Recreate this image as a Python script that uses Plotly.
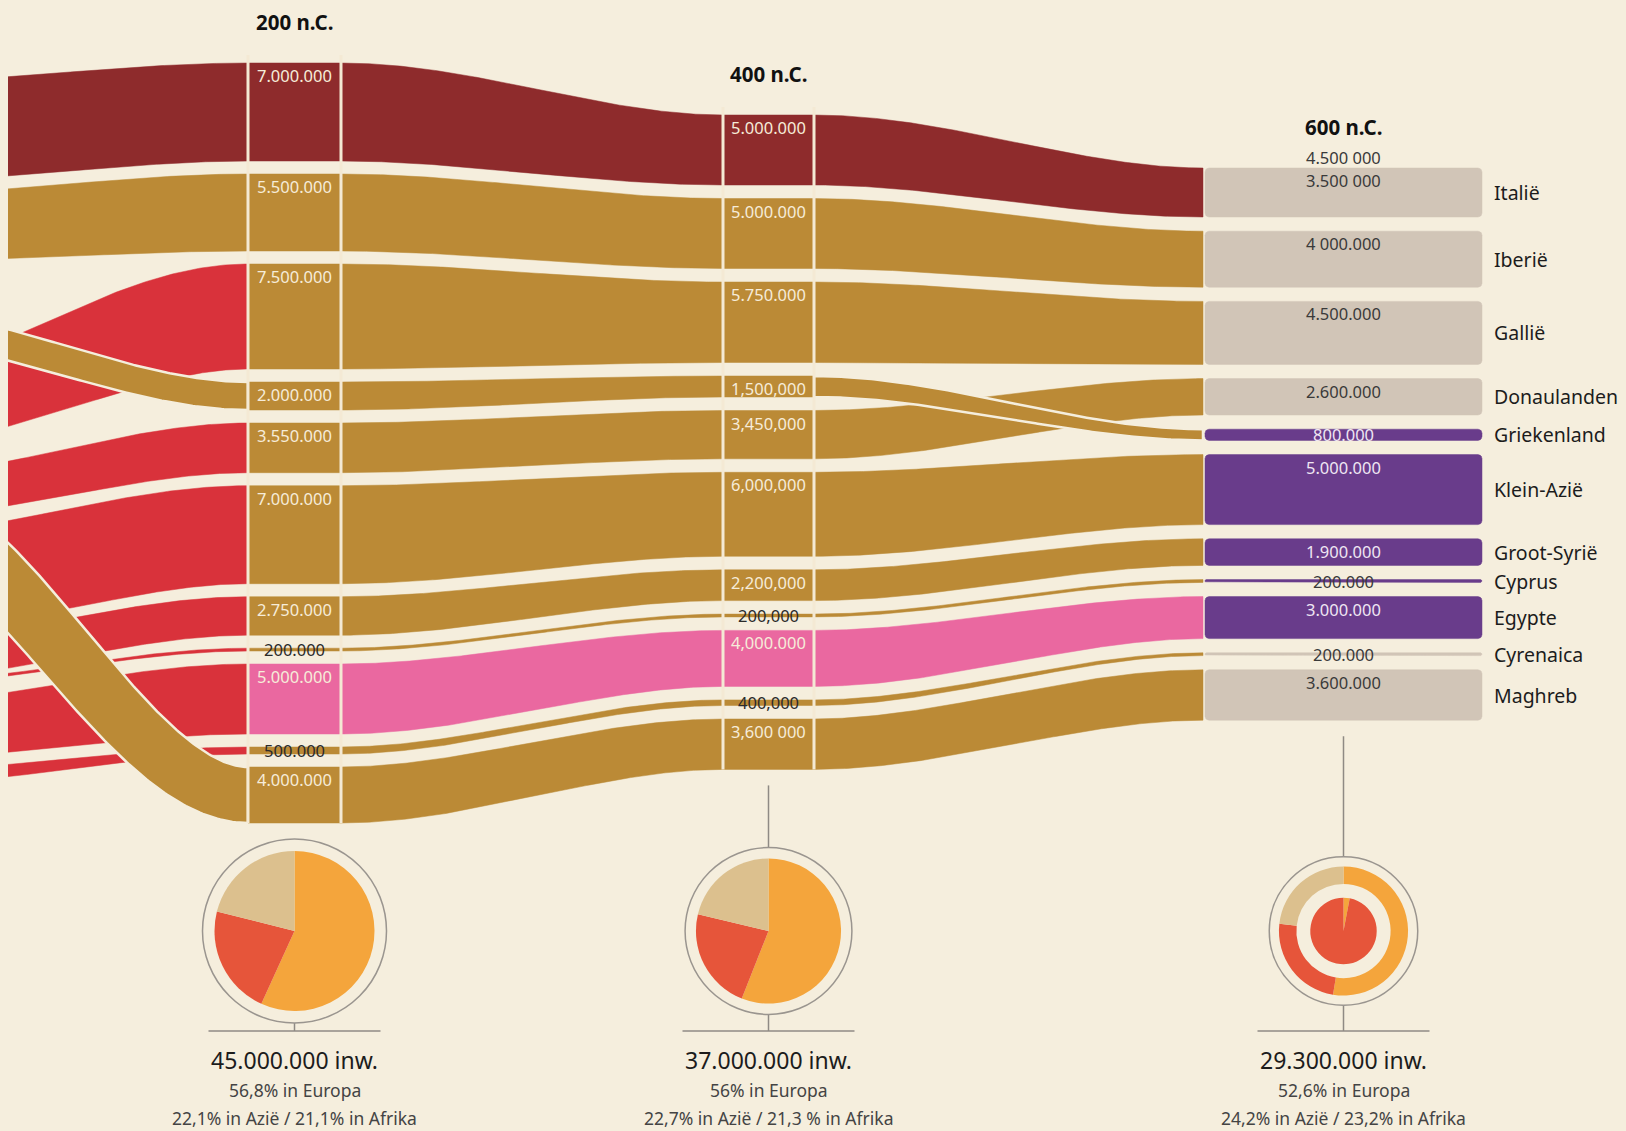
import numpy as np
import plotly.graph_objects as go

W, H = 1626, 1131
BG = "#f5eedd"

# ---------------- data ----------------
regions = ["Italië", "Iberië", "Gallië", "Griekenland", "Donaulanden", "Klein-Azië",
           "Groot-Syrië", "Cyprus", "Egypte", "Cyrenaica", "Maghreb"]
# inflow thickness at the left edge (estimated, in millions)
pop_pre = [7.1, 4.8, 5.3, 2.2, 3.0, 7.0, 2.75, 0.2, 4.0, 1.0, 4.6]
pop_200 = [7.0, 5.5, 7.5, 2.0, 3.55, 7.0, 2.75, 0.2, 5.0, 0.5, 4.0]
pop_400 = [5.0, 5.0, 5.75, 1.5, 3.45, 6.0, 2.2, 0.2, 4.0, 0.4, 3.6]
pop_600 = [3.5, 4.0, 4.5, 0.8, 2.6, 5.0, 1.9, 0.2, 3.0, 0.2, 3.6]

labels_200 = ["7.000.000", "5.500.000", "7.500.000", "2.000.000", "3.550.000", "7.000.000",
              "2.750.000", "200.000", "5.000.000", "500.000", "4.000.000"]
labels_400 = ["5.000.000", "5.000.000", "5.750.000", "1,500,000", "3,450,000", "6,000,000",
              "2,200,000", "200,000", "4,000.000", "400,000", "3,600 000"]
labels_600 = ["3.500 000", "4 000.000", "4.500.000", "800.000", "2.600.000", "5.000.000",
              "1.900.000", "200.000", "3.000.000", "200.000", "3.600.000"]
label_600_italy_extra = "4.500 000"

years = ["200 n.C.", "400 n.C.", "600 n.C."]
totals = [45.0, 37.0, 29.3]
totals_txt = ["45.000.000 inw.", "37.000.000 inw.", "29.300.000 inw."]
share_europe = [56.8, 56.0, 52.6]
share_asia = [22.1, 22.7, 24.2]
share_africa = [21.1, 21.3, 23.2]
inner_600 = [3.0, 97.0]
europe_txt = ["56,8% in Europa", "56% in Europa", "52,6% in Europa"]
asia_africa_txt = ["22,1% in Azië / 21,1% in Afrika",
                   "22,7% in Azië / 21,3 % in Afrika",
                   "24,2% in Azië / 23,2% in Afrika"]

# ---------------- layout / style ----------------
order_200 = list(range(11))
order_400 = list(range(11))
order_600 = [0, 1, 2, 4, 3, 5, 6, 7, 8, 9, 10]
PX = 14.0                       # pixels per million
col_x = {200: (248, 341), 400: (723, 814), 600: (1205, 1482)}
flow_end_600 = 1203
col_top = {200: 63, 400: 115, 600: 168}
col_gap = {200: 13.0, 400: 13.5, 600: 14.2}
X_SRC = -120
left_shift = [20, 16, 93, -71, 50, 50, 46, 35, 33, 28, -288]
LABEL_X = 1492

DARKRED = "#8e2b2c"
OCHRE = "#bb8a36"
RED = "#d9323b"
PINK = "#ea68a0"
PURPLE = "#693c8b"
BEIGE = "#d1c5b7"
ORANGE = "#f4a53c"
REDOR = "#e6553a"
TAN = "#dcc08e"
CREAM_TXT = "#f6ecd9"
DARK_TXT = "#2b2b2b"
FONT = "Noto Sans"

left_color = [DARKRED, OCHRE, RED, OCHRE, RED, RED, RED, RED, RED, RED, OCHRE]
mid_color = [DARKRED, OCHRE, OCHRE, OCHRE, OCHRE, OCHRE, OCHRE, OCHRE, PINK, OCHRE, OCHRE]
box600_color = [BEIGE, BEIGE, BEIGE, PURPLE, BEIGE, PURPLE, PURPLE, PURPLE, PURPLE, BEIGE, BEIGE]
crossing_left = [3, 10]
crossing_late = [3]


def stack(values, order, top, gap):
    tops = [0.0] * len(values)
    y = top
    for i in order:
        tops[i] = y
        y += values[i] * PX + gap
    return tops, y - gap


t200, b200 = stack(pop_200, order_200, col_top[200], col_gap[200])
t400, b400 = stack(pop_400, order_400, col_top[400], col_gap[400])
t600, b600 = stack(pop_600, order_600, col_top[600], col_gap[600])
c200 = [t200[i] + pop_200[i] * PX / 2 for i in range(11)]
c400 = [t400[i] + pop_400[i] * PX / 2 for i in range(11)]
c600 = [t600[i] + pop_600[i] * PX / 2 for i in range(11)]


def ribbon(x0, x1, ca, cb, ha, hb, n=160):
    x = np.linspace(x0, x1, n)
    t = (x - x0) / (x1 - x0)
    s = 3 * t ** 2 - 2 * t ** 3
    ds = 6 * t * (1 - t) / (x1 - x0)
    c = ca + (cb - ca) * s
    dc = (cb - ca) * ds
    h = ha + (hb - ha) * s
    nrm = np.sqrt(1 + dc ** 2)
    xt, yt = x + h * dc / nrm, c - h / nrm
    xb, yb = x - h * dc / nrm, c + h / nrm
    return np.concatenate([xt, xb[::-1], xt[:1]]), np.concatenate([yt, yb[::-1], yt[:1]])


def rrect(x0, x1, y0, y1, r):
    r = max(0.0, min(r, (y1 - y0) / 2, (x1 - x0) / 2))
    xs, ys = [], []
    for cx, cy, a0 in [(x1 - r, y0 + r, -90), (x1 - r, y1 - r, 0), (x0 + r, y1 - r, 90), (x0 + r, y0 + r, 180)]:
        a = np.radians(np.linspace(a0, a0 + 90, 6))
        xs += list(cx + r * np.cos(a))
        ys += list(cy + r * np.sin(a))
    xs.append(xs[0]); ys.append(ys[0])
    return xs, ys


fig = go.Figure()


def add_poly(xs, ys, color, outline=False):
    fig.add_trace(go.Scatter(
        x=xs, y=ys, mode="lines", fill="toself", fillcolor=color,
        line=dict(color=BG if outline else color, width=2.5 if outline else 0.5),
        hoverinfo="skip", showlegend=False))


# left inflows (underlying first, crossing bands on top)
for i in [k for k in range(11) if k not in crossing_left] + crossing_left:
    xs, ys = ribbon(X_SRC, col_x[200][0], c200[i] + left_shift[i], c200[i],
                    pop_pre[i] * PX / 2, pop_200[i] * PX / 2)
    add_poly(xs, ys, left_color[i], outline=i in crossing_left)

# 200 -> 400
for i in range(11):
    xs, ys = ribbon(col_x[200][1], col_x[400][0], c200[i], c400[i],
                    pop_200[i] * PX / 2, pop_400[i] * PX / 2)
    add_poly(xs, ys, mid_color[i])

# 400 -> 600
for i in [k for k in range(11) if k not in crossing_late] + crossing_late:
    xs, ys = ribbon(col_x[400][1], flow_end_600, c400[i], c600[i],
                    pop_400[i] * PX / 2, pop_600[i] * PX / 2)
    add_poly(xs, ys, mid_color[i], outline=i in crossing_late)

# column boxes 200 and 400
for yr, tops, vals in [(200, t200, pop_200), (400, t400, pop_400)]:
    xa, xb = col_x[yr]
    for i in range(11):
        y0, y1 = tops[i], tops[i] + vals[i] * PX
        add_poly([xa, xb, xb, xa, xa], [y0, y0, y1, y1, y0], mid_color[i])

# vertical cream lines of the columns
for yr, bot in [(200, b200), (400, b400)]:
    for xv in col_x[yr]:
        fig.add_trace(go.Scatter(x=[xv, xv], y=[col_top[yr] - 8, bot], mode="lines",
                                 line=dict(color="#f4e9d4", width=3),
                                 hoverinfo="skip", showlegend=False))

# 600 boxes
xa, xb = col_x[600]
for i in range(11):
    y0, y1 = t600[i], t600[i] + pop_600[i] * PX
    xs, ys = rrect(xa, xb, y0, y1, 4)
    add_poly(xs, ys, box600_color[i])

annotations = []


def ann(x, y, text, size, color, xanchor="center", bold=False):
    annotations.append(dict(
        x=x, y=y, xref="x", yref="y", text=f"<b>{text}</b>" if bold else text,
        showarrow=False, xanchor=xanchor, yanchor="middle",
        font=dict(family=FONT, size=size, color=color)))


VAL_FS = 16.5
# value labels
for yr, tops, vals, labs in [(200, t200, pop_200, labels_200), (400, t400, pop_400, labels_400)]:
    cx = sum(col_x[yr]) / 2
    for i in range(11):
        if vals[i] < 1:
            ann(cx, tops[i] + vals[i] * PX / 2, labs[i], VAL_FS, DARK_TXT)
        else:
            ann(cx, tops[i] + 12.5, labs[i], VAL_FS, CREAM_TXT)

cx600 = sum(col_x[600]) / 2
for i in range(11):
    light = box600_color[i] == PURPLE and pop_600[i] >= 0.5
    col = "#efe6f3" if light else "#3a3a3a"
    if pop_600[i] < 1:
        ann(cx600, t600[i] + pop_600[i] * PX / 2, labels_600[i], VAL_FS, col)
    else:
        ann(cx600, t600[i] + 12.5, labels_600[i], VAL_FS, col)
ann(cx600, t600[0] - 11, label_600_italy_extra, VAL_FS, "#3a3a3a")

# region labels
for i in range(11):
    ann(LABEL_X, t600[i] + pop_600[i] * PX / 2, regions[i], 19.5, "#1c1c1c", xanchor="left")

# year titles
centers = [sum(col_x[200]) / 2, sum(col_x[400]) / 2, cx600]
for k, yr in enumerate([200, 400, 600]):
    ann(centers[k], col_top[yr] - 41, years[k], 20.5, "#111111", bold=True)

# pies
PIE_R45 = 80
PIE_CY = 931
shapes = []
bottoms = [None, b400, b600]
for k in range(3):
    cx = centers[k]
    r = PIE_R45 * np.sqrt(totals[k] / totals[0])
    ring = r * 1.15
    ytop = bottoms[k] + 16 if bottoms[k] is not None else PIE_CY + ring - 2
    shapes.append(dict(type="line", xref="x", yref="y", x0=cx, x1=cx, y0=ytop, y1=1031,
                       line=dict(color="#8f8a84", width=1.5), layer="below"))
    shapes.append(dict(type="line", xref="x", yref="y", x0=cx - 86, x1=cx + 86, y0=1031, y1=1031,
                       line=dict(color="#8f8a84", width=1.5), layer="below"))
    shapes.append(dict(type="circle", xref="x", yref="y", x0=cx - ring, x1=cx + ring,
                       y0=PIE_CY - ring, y1=PIE_CY + ring, fillcolor=BG,
                       line=dict(color="#9a958f", width=1.5), layer="below"))
    dom = dict(x=[(cx - r) / W, (cx + r) / W], y=[(H - PIE_CY - r) / H, (H - PIE_CY + r) / H])
    fig.add_trace(go.Pie(values=[share_europe[k], share_asia[k], share_africa[k]],
                         labels=["Europa", "Azië", "Afrika"], sort=False, direction="clockwise",
                         rotation=0, textinfo="none", hoverinfo="skip", showlegend=False,
                         hole=0.73 if k == 2 else 0,
                         marker=dict(colors=[ORANGE, REDOR, TAN], line=dict(width=0)),
                         domain=dom))
    if k == 2:
        ri = r * 0.515
        fig.add_trace(go.Pie(values=inner_600, labels=["a", "b"], sort=False, direction="clockwise",
                             rotation=0, textinfo="none", hoverinfo="skip", showlegend=False,
                             marker=dict(colors=[ORANGE, REDOR], line=dict(width=0)),
                             domain=dict(x=[(cx - ri) / W, (cx + ri) / W],
                                         y=[(H - PIE_CY - ri) / H, (H - PIE_CY + ri) / H])))
    ann(cx, 1060, totals_txt[k], 23, "#1c1c1c")
    ann(cx, 1090, europe_txt[k], 17.5, "#444444")
    ann(cx, 1118, asia_africa_txt[k], 17.5, "#444444")

# left cream margin strip
shapes.append(dict(type="rect", xref="x", yref="y", x0=-5, x1=8, y0=0, y1=H,
                   fillcolor=BG, line=dict(width=0), layer="above"))

fig.update_layout(
    width=W, height=H, margin=dict(l=0, r=0, t=0, b=0),
    paper_bgcolor=BG, plot_bgcolor=BG,
    xaxis=dict(range=[0, W], visible=False, fixedrange=True),
    yaxis=dict(range=[H, 0], visible=False, fixedrange=True),
    shapes=shapes, annotations=annotations, showlegend=False,
)

fig.write_html("out.html", config={"displayModeBar": False},
               post_script="document.body.style.margin='0px';document.body.style.background='" + BG + "';")
